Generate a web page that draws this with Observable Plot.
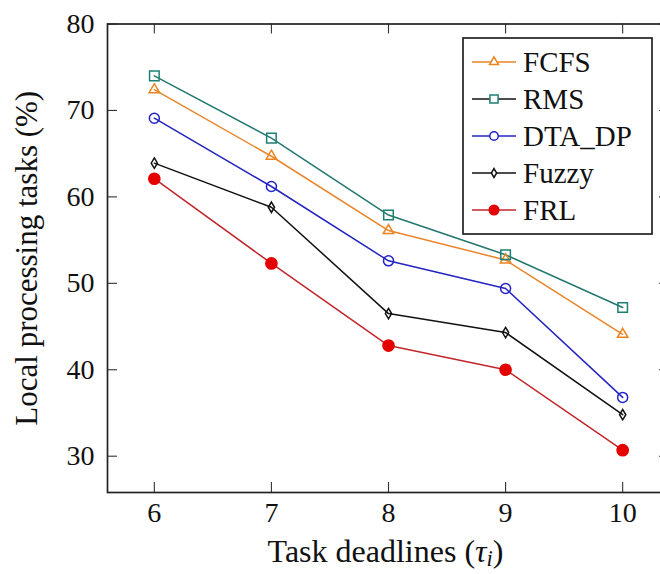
<!DOCTYPE html>
<html>
<head>
<meta charset="utf-8">
<script src="https://cdn.jsdelivr.net/npm/d3@7"></script>
<script src="https://cdn.jsdelivr.net/npm/@observablehq/plot@0.6"></script>
<style>
  html, body { margin: 0; padding: 0; background: #fff; overflow: hidden; }
  #chart { width: 660px; height: 574px; overflow: hidden; }
  #chart svg { max-width: none !important; }
  #chart svg, #chart svg text { font-family: 'Liberation Serif', 'DejaVu Serif', serif !important; }
</style>
</head>
<body>
<div id="chart"></div>
<script>
// ---- data ----
const deadlines = [6, 7, 8, 9, 10];
const yTicks = [30, 40, 50, 60, 70, 80];
const seriesNames = ["FCFS", "RMS", "DTA_DP", "Fuzzy", "FRL"];
const fcfs  = [72.4, 64.7, 56.1, 52.7, 44.1];
const rms   = [74.0, 66.8, 57.9, 53.3, 47.2];
const dtaDp = [69.1, 61.2, 52.6, 49.4, 36.8];
const fuzzy = [63.9, 58.8, 46.5, 44.3, 34.8];
const frl   = [62.1, 52.3, 42.8, 40.0, 30.7];
const xLabel = "Task deadlines (τi)";
const yLabel = "Local processing tasks (%)";

// ---- style ----
const FONT = "'Liberation Serif', 'DejaVu Serif', serif";
const W = 669, H = 574;
const mL = 107, mR = 0, mT = 23.5, mB = 82;
const frameW = W - mL - mR, frameH = H - mT - mB;
const tickLen = 10;

const thinDiamond = {
  draw(ctx, size) {
    const r = Math.sqrt(size / Math.PI);
    ctx.moveTo(0, -r);
    ctx.lineTo(r * 0.6, 0);
    ctx.lineTo(0, r);
    ctx.lineTo(-r * 0.6, 0);
    ctx.closePath();
  }
};

const styles = {
  "FCFS":   {values: fcfs,  color: "#EE8420", lineColor: "#E8852A", legendLine: "#E8852A", symbol: "triangle", r: 3.9, fill: "none"},
  "RMS":    {values: rms,   color: "#1E7F74", lineColor: "#22776E", legendLine: "#111",    symbol: "square",   r: 5.4, fill: "none"},
  "DTA_DP": {values: dtaDp, color: "#2222CC", lineColor: "#2424C0", legendLine: "#2424C0", symbol: "circle",   r: 5.0, fill: "none"},
  "Fuzzy":  {values: fuzzy, color: "#111",    lineColor: "#111",    legendLine: "#111",    symbol: thinDiamond, r: 5.2, fill: "none"},
  "FRL":    {values: frl,   color: "#E50000", lineColor: "#C0262A", legendLine: "#C0262A", symbol: "circle",   r: 5.6, fill: "#E50000"}
};

const rows = name => deadlines.map((d, i) => ({x: d, y: styles[name].values[i], s: name}));

const marks = [];
for (const name of seriesNames) {
  const st = styles[name];
  marks.push(Plot.line(rows(name), {x: "x", y: "y", stroke: st.lineColor, strokeWidth: 1.5}));
}
for (const name of seriesNames) {
  const st = styles[name];
  marks.push(Plot.dot(rows(name), {x: "x", y: "y", symbol: () => st.symbol, r: st.r,
    stroke: st.color, fill: st.fill, strokeWidth: 1.5}));
}

const plot = Plot.plot({
  width: W, height: H,
  marginLeft: mL, marginRight: mR, marginTop: mT, marginBottom: mB,
  style: {fontFamily: FONT, color: "#111", background: "#fff", maxWidth: "none"},
  x: {domain: [5.6, 10.4], axis: null},
  y: {domain: [25.8, 80], axis: null},
  symbol: {type: "identity"},
  marks: [
    // inward ticks on all four sides
    Plot.tickX(deadlines, {x: d => d, insetTop: frameH - tickLen, stroke: "#333", strokeWidth: 1.1}),
    Plot.tickX(deadlines, {x: d => d, insetBottom: frameH - tickLen, stroke: "#333", strokeWidth: 1.1}),
    Plot.tickY(yTicks, {y: d => d, insetRight: frameW - tickLen, stroke: "#333", strokeWidth: 1.1}),
    Plot.tickY(yTicks, {y: d => d, insetLeft: frameW - tickLen, stroke: "#333", strokeWidth: 1.1}),
    Plot.axisX(deadlines, {anchor: "bottom", tickSize: 0, tickPadding: 10, fontSize: 28, label: null,
      fill: "#111", tickFormat: d3.format("d"), fontFamily: FONT}),
    Plot.axisY(yTicks, {anchor: "left", tickSize: 0, tickPadding: 13, fontSize: 28, label: null,
      fill: "#111", tickFormat: d3.format("d"), fontFamily: FONT}),
    ...marks,
    Plot.frame({stroke: "#222", strokeWidth: 1.7}),
    Plot.text([yLabel], {frameAnchor: "left", dx: -80, rotate: -90, fontSize: 31, fill: "#111",
      lineAnchor: "middle", textAnchor: "middle", fontFamily: FONT}),
    Plot.text([xLabel], {frameAnchor: "bottom", dx: -3, dy: 69, fontSize: 32, fill: "#111",
      lineAnchor: "bottom", textAnchor: "middle", fontFamily: FONT, className: "xlab"})
  ]
});

document.getElementById("chart").appendChild(plot);

// ---- x label with italic tau and subscript i ----
const svg = d3.select(plot);
const xt = svg.select(".xlab text");
if (!xt.empty()) {
  xt.text(null);
  xt.append("tspan").text("Task deadlines (");
  xt.append("tspan").attr("font-style", "italic").text("τ");
  xt.append("tspan").attr("font-style", "italic").attr("font-size", "0.7em").attr("dy", "0.2em").text("i");
  xt.append("tspan").attr("dy", "-0.14em").text(")");
}

// ---- legend (inside the plot, upper right) ----
const lg = svg.append("g").attr("font-family", FONT).attr("text-anchor", "start");
const bx = 463, by = 38, bw = 189, bh = 196, rowH = 37, firstY = 62;
lg.append("rect").attr("x", bx).attr("y", by).attr("width", bw).attr("height", bh)
  .attr("fill", "#fff").attr("stroke", "#222").attr("stroke-width", 1.7);
seriesNames.forEach((name, i) => {
  const st = styles[name];
  const cy = firstY + i * rowH;
  lg.append("line").attr("x1", 472).attr("x2", 516).attr("y1", cy).attr("y2", cy)
    .attr("stroke", st.legendLine).attr("stroke-width", 1.5);
  const symType = typeof st.symbol === "string"
    ? {triangle: d3.symbolTriangle, square: d3.symbolSquare, circle: d3.symbolCircle}[st.symbol]
    : st.symbol;
  const rr = st.r * 0.85;
  lg.append("path").attr("transform", `translate(494,${cy})`)
    .attr("d", d3.symbol(symType, Math.PI * rr * rr)())
    .attr("fill", st.fill === "none" ? "#fff" : st.fill)
    .attr("stroke", st.color).attr("stroke-width", 1.5);
  lg.append("text").attr("x", 523).attr("y", cy).attr("dy", "0.35em")
    .attr("text-anchor", "start").attr("font-size", 29).attr("fill", "#111").text(name);
});
</script>
</body>
</html>
